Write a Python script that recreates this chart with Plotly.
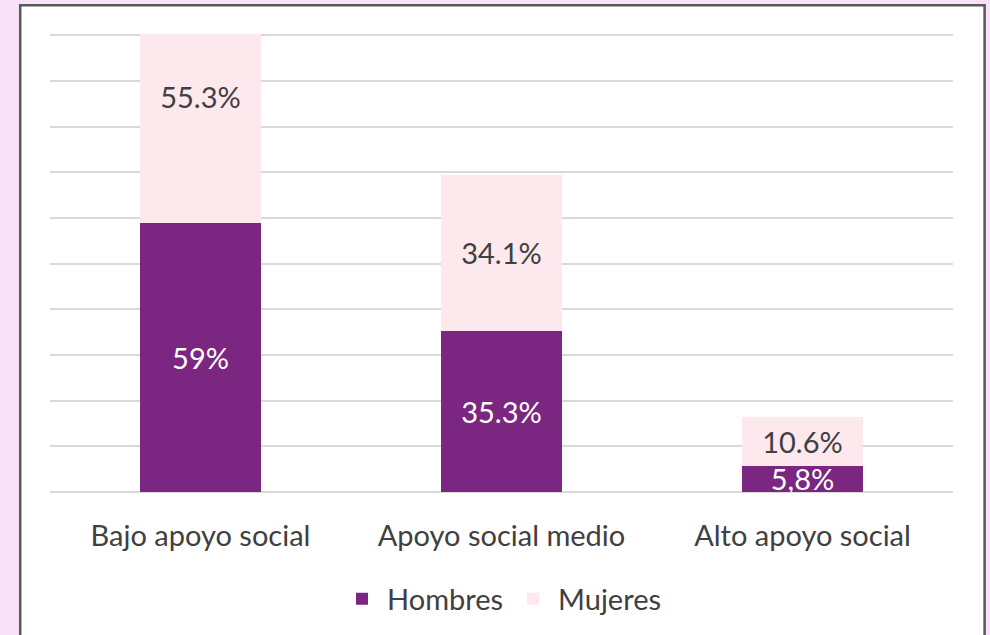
import plotly.graph_objects as go

categories = ["Bajo apoyo social", "Apoyo social medio", "Alto apoyo social"]
hombres = [59.0, 35.3, 5.8]
mujeres = [55.3, 34.1, 10.6]
hombres_labels = ["59%", "35.3%", "5,8%"]
mujeres_labels = ["55.3%", "34.1%", "10.6%"]

FONT = "Lato"
SIZE = 29
PURPLE = "#7B2680"
PINK = "#FDE8EE"
TEXT_GRAY = "#404040"

fig = go.Figure()
fig.add_trace(go.Bar(
    x=categories, y=hombres, name="Hombres",
    marker=dict(color=PURPLE, line=dict(width=0)),
    text=hombres_labels, textposition="inside", insidetextanchor="middle",
    textfont=dict(color="white", size=SIZE, family=FONT),
    hoverinfo="skip",
))
fig.add_trace(go.Bar(
    x=categories, y=mujeres, name="Mujeres",
    marker=dict(color=PINK, line=dict(width=0)),
    text=mujeres_labels, textposition="inside", insidetextanchor="middle",
    textfont=dict(color=TEXT_GRAY, size=SIZE, family=FONT),
    hoverinfo="skip",
))

fig.update_layout(
    width=990, height=635,
    barmode="stack", bargap=0.6,
    paper_bgcolor="#F9E1FA", plot_bgcolor="white",
    margin=dict(l=50, r=37, t=34, b=142),
    font=dict(family=FONT, size=SIZE, color=TEXT_GRAY),
    uniformtext=dict(minsize=SIZE, mode="show"),
    showlegend=True,
    legend=dict(
        orientation="h", x=0.5, xanchor="center", y=-0.175, yanchor="top",
        font=dict(size=SIZE, color=TEXT_GRAY), bgcolor="rgba(0,0,0,0)",
        traceorder="normal", itemwidth=40,
    ),
    shapes=[dict(
        type="rect", xref="paper", yref="paper", layer="below",
        x0=-0.033, x1=1.035, y0=-0.4, y1=1.063,
        fillcolor="white", line=dict(color="#595959", width=2.5),
    )],
)
fig.update_xaxes(showline=False, ticks="", ticklabelstandoff=24,
                 tickfont=dict(size=SIZE, color=TEXT_GRAY))
fig.update_yaxes(
    range=[0, 100.3], tickvals=list(range(0, 101, 10)), showticklabels=False,
    showgrid=True, gridcolor="#D9D9D9", gridwidth=1.5,
    zeroline=True, zerolinecolor="#D9D9D9", zerolinewidth=1.5,
)

fig.write_html("out.html", config={"displayModeBar": False},
               post_script="document.body.style.margin='0';")
